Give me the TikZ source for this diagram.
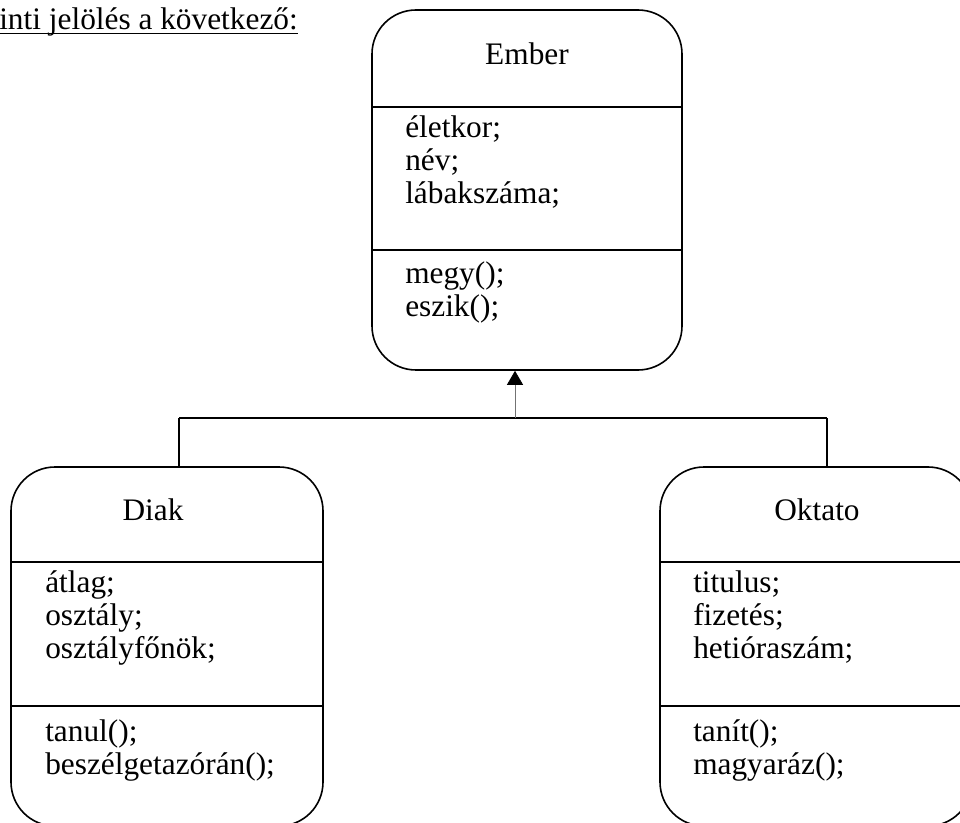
\documentclass[tikz,border=0pt]{standalone}
\usepackage{fontspec}
\setmainfont{Liberation Serif}
\usetikzlibrary{arrows.meta}

\tikzset{
	classbox/.style={draw, line width=1.2pt, rounded corners=33pt, inner sep=0pt},
	sepline/.style={line width=1.2pt},
	title/.style={anchor=base, inner sep=0pt},
	member/.style={anchor=base west, inner sep=0pt},
	link/.style={line width=1.1pt},
	every node/.style={font=\fontsize{23.5}{24.75}\selectfont}
}

\begin{document}
\begin{tikzpicture}[x=0.75pt, y=-0.75pt]
			%%%%% START %%%%%
			\useasboundingbox (0, 0) rectangle (960, 823);
			\clip (0, 0) rectangle (960, 823);
			
			\node[anchor=base east, inner sep=0pt] (intro) at (298, 30) {inti jelölés a következő:};
			\draw[line width=1.1pt] ([yshift=-2.6pt]intro.base west) -- ([yshift=-2.6pt]intro.base east);
			
			% Ember
			\node[classbox, minimum width=232.5pt, minimum height=270pt] (ember) at (527, 190) {};
			\draw[sepline] (ember.west |- 0, 107) -- (ember.east |- 0, 107);
			\draw[sepline] (ember.west |- 0, 250) -- (ember.east |- 0, 250);
			\node[title] (ember-t) at (527, 65) {Ember};
			\foreach \t [count=\i from 0] in {életkor;, név;, lábakszáma;}
				\node[member] (ember-a\i) at (405, 137.7+33*\i) {\t};
			\foreach \t [count=\i from 0] in {megy();, eszik();}
				\node[member] (ember-m\i) at (405, 283.5+33*\i) {\t};
			
			% Diak
			\node[classbox, minimum width=234pt, minimum height=269.25pt] (diak) at (167, 646.5) {};
			\draw[sepline] (diak.west |- 0, 562) -- (diak.east |- 0, 562);
			\draw[sepline] (diak.west |- 0, 706) -- (diak.east |- 0, 706);
			\node[title] (diak-t) at (153, 520) {Diak};
			\foreach \t [count=\i from 0] in {átlag;, osztály;, osztályfőnök;}
				\node[member] (diak-a\i) at (45, 592.5+33*\i) {\t};
			\foreach \t [count=\i from 0] in {tanul();, beszélgetazórán();}
				\node[member] (diak-m\i) at (45, 741.5+33*\i) {\t};
			
			% Oktato
			\node[classbox, minimum width=234pt, minimum height=269.25pt] (oktato) at (816, 646.5) {};
			\draw[sepline] (oktato.west |- 0, 562) -- (oktato.east |- 0, 562);
			\draw[sepline] (oktato.west |- 0, 706) -- (oktato.east |- 0, 706);
			\node[title] (oktato-t) at (817, 520) {Oktato};
			\foreach \t [count=\i from 0] in {titulus;, fizetés;, hetióraszám;}
				\node[member] (oktato-a\i) at (693, 592.5+33*\i) {\t};
			\foreach \t [count=\i from 0] in {tanít();, magyaráz();}
				\node[member] (oktato-m\i) at (693, 741.5+33*\i) {\t};
			
			% inheritance
			\coordinate (hub) at (515, 418);
			\coordinate (left) at (179, 418);
			\coordinate (right) at (827, 418);
			\draw[link] (left) -- (right);
			\draw[link] (left) -- (left |- diak.north);
			\draw[link] (right) -- (right |- oktato.north);
			\draw[line width=0.6pt, color=black!55, -{Triangle[width=12pt, length=10.5pt, color=black]}] (hub) -- (hub |- ember.south);
			%%%%% END %%%%%
\end{tikzpicture}
\end{document}
